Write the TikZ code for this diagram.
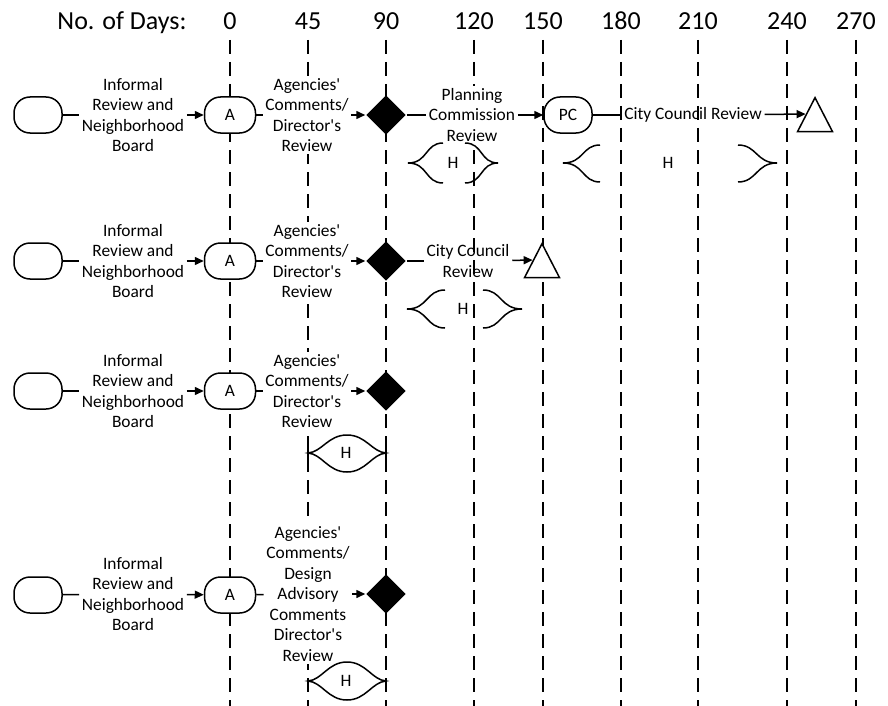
\documentclass[tikz,border=0pt]{standalone}
\usepackage{fontspec}
\setmainfont{Carlito}
\usetikzlibrary{positioning,arrows.meta,shapes.geometric}
\newcommand\straightq{{\XeTeXglyph\XeTeXcharglyph"0027\relax}}

\begin{document}
\begin{tikzpicture}[x=0.5pt,y=-0.5pt,>={Triangle[length=4.5pt,width=4pt]},line width=0.75pt,
  dayline/.style={dash pattern=on 7pt off 4pt,line width=0.7pt},
  daylabel/.style={font=\fontsize{13}{15}\selectfont,anchor=base,inner sep=0pt},
  steplabel/.style={font=\fontsize{8.7}{10.25}\selectfont,align=center,fill=white,inner sep=1pt},
  roundbox/.style={draw,fill=white,rounded corners=8pt,minimum width=24pt,minimum height=18pt,inner sep=0pt,font=\fontsize{8.7}{10.25}\selectfont},
  decision/.style={diamond,fill=black,minimum width=20pt,minimum height=20pt,inner sep=0pt},
  finish/.style={isosceles triangle,isosceles triangle stretches,shape border rotate=90,draw,fill=white,minimum width=17.5pt,minimum height=17pt,inner sep=0pt},
  hlabel/.style={font=\fontsize{8.7}{10.25}\selectfont,inner sep=1pt}]
\useasboundingbox (0,0) rectangle (888,706);

% day scale
\node[daylabel] (days) at (122,30) {No. of Days:};
\foreach \d/\x in {0/230,45/308,90/386,120/474,150/543,180/621,210/698,240/787,270/856}{
  \node[daylabel] (day\d) at (\x,30) {\d};
  \draw[dayline] (\x,40) -- (\x,706);
}

% row 1
\node[roundbox] (s1) at (38,115) {};
\node[roundbox,minimum width=25.5pt] (a1) at (230,115) {A};
\node[decision] (d1) at (386,115) {};
\node[roundbox] (pc1) at (568,115) {PC};
\node[finish] (t1) at (815,121) {};
\node[steplabel] (inf1) at (133,115) {Informal\\Review and\\Neighborhood\\Board};
\node[steplabel] (ag1) at (307,115) {Agencies\straightq\\Comments/\\Director\straightq s\\Review};
\node[steplabel] (pcr1) at (472,115) {Planning\\Commission\\Review};
\node[steplabel,fill=none] (ccr1) at (693,115) {City Council Review};
\draw (s1) -- (inf1); \draw[->] (inf1) -- (a1);
\draw (a1) -- (ag1); \draw[->] (ag1) -- (d1);
\draw (d1) -- (pcr1); \draw[->] (pcr1) -- (pc1);
\draw (pc1) -- (ccr1); \draw[->] (ccr1) -- (t1.left side);
\node[hlabel] (h1) at (453,163) {H};
\draw (443,143) .. controls (425,143) and (428,163) .. (408,163) .. controls (428,163) and (425,183) .. (443,183);
\draw (465,143) .. controls (483,143) and (480,163) .. (498,163) .. controls (480,163) and (483,183) .. (465,183);
\node[hlabel] (h2) at (668,163) {H};
\draw (600,145) .. controls (582,145) and (584,163) .. (563,163) .. controls (584,163) and (582,182) .. (600,182);
\draw (738,145) .. controls (757,145) and (756,163) .. (777,163) .. controls (756,163) and (757,182) .. (738,182);

% row 2
\node[roundbox] (s2) at (38,261) {};
\node[roundbox,minimum width=25.5pt] (a2) at (230,261) {A};
\node[decision] (d2) at (386,261) {};
\node[finish] (t2) at (542,267) {};
\node[steplabel] (inf2) at (133,261) {Informal\\Review and\\Neighborhood\\Board};
\node[steplabel] (ag2) at (307,261) {Agencies\straightq\\Comments/\\Director\straightq s\\Review};
\node[steplabel,fill=none] (ccr2) at (468,261) {City Council\\Review};
\draw (s2) -- (inf2); \draw[->] (inf2) -- (a2);
\draw (a2) -- (ag2); \draw[->] (ag2) -- (d2);
\draw (d2) -- (ccr2); \draw[->] (ccr2) -- (t2.left side);
\node[hlabel] (h3) at (463,309) {H};
\draw (445,290) .. controls (426,290) and (428,309) .. (407,309) .. controls (428,309) and (426,328) .. (445,328);
\draw (483,290) .. controls (502,290) and (500,309) .. (522,309) .. controls (500,309) and (502,328) .. (483,328);

% row 3
\node[roundbox] (s3) at (38,391) {};
\node[roundbox,minimum width=25.5pt] (a3) at (230,391) {A};
\node[decision] (d3) at (386,391) {};
\node[steplabel] (inf3) at (133,391) {Informal\\Review and\\Neighborhood\\Board};
\node[steplabel] (ag3) at (307,391) {Agencies\straightq\\Comments/\\Director\straightq s\\Review};
\draw (s3) -- (inf3); \draw[->] (inf3) -- (a3);
\draw (a3) -- (ag3); \draw[->] (ag3) -- (d3);
\node[hlabel] (h4) at (346,453) {H};
\draw (308,453) .. controls (322,452) and (328,435) .. (347,435) .. controls (366,435) and (372,452) .. (386,453)
  .. controls (372,454) and (366,472) .. (347,472) .. controls (328,472) and (322,454) .. cycle;
\draw (308,446) -- (308,460) (386,446) -- (386,460);

% row 4
\node[roundbox] (s4) at (38,595) {};
\node[roundbox,minimum width=25.5pt] (a4) at (230,595) {A};
\node[decision] (d4) at (386,594) {};
\node[steplabel] (inf4) at (133,594) {Informal\\Review and\\Neighborhood\\Board};
\node[steplabel] (ag4) at (308,594) {Agencies\straightq\\Comments/\\Design\\Advisory\\Comments\\Director\straightq s\\Review};
\draw (s4) -- (inf4); \draw[->] (inf4) -- (a4);
\draw (a4) -- (ag4); \draw[->] (ag4) -- (d4);
\node[hlabel] (h5) at (346,681) {H};
\draw (308,681) .. controls (322,680) and (328,662) .. (347,662) .. controls (366,662) and (372,680) .. (386,681)
  .. controls (372,682) and (366,700) .. (347,700) .. controls (328,700) and (322,682) .. cycle;
\end{tikzpicture}
\end{document}
